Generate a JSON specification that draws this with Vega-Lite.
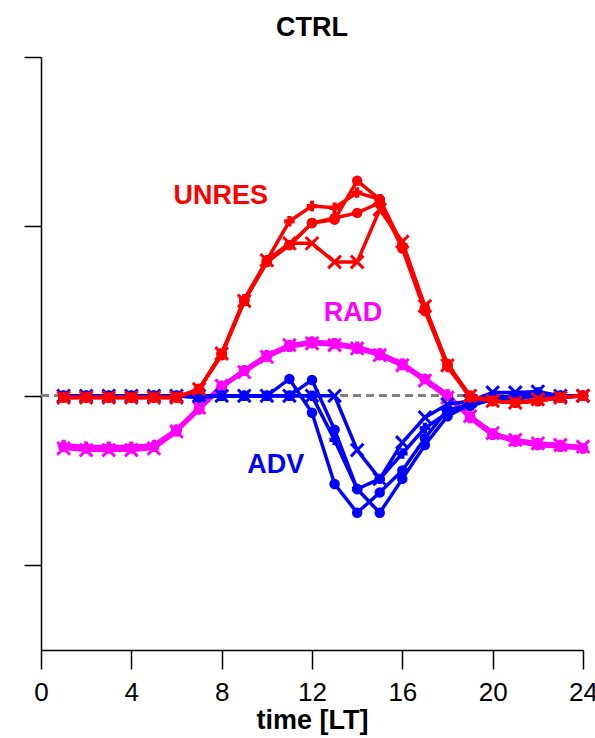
{
"$schema": "https://vega.github.io/schema/vega-lite/v6.json",
"width": 542, "height": 593,
"autosize": "none",
"padding": {"left": 41, "top": 57, "right": 12, "bottom": 88},
"background": "white",
"title": {"text": "CTRL", "fontSize": 27, "fontWeight": "bold", "font": "Liberation Sans", "color": "black", "offset": 14},
"config": {"view": {"stroke": null}, "axis": {"grid": false, "domainColor": "black", "tickColor": "black", "labelColor": "black", "titleColor": "black", "domainWidth": 1.5, "tickWidth": 1.5, "labelFont": "Liberation Sans", "titleFont": "Liberation Sans"}},
"datasets": {
"series": [
{"g":"UNRES","m":"m1","t":1,"v":-0.01},{"g":"UNRES","m":"m1","t":2,"v":-0.01},{"g":"UNRES","m":"m1","t":3,"v":-0.01},{"g":"UNRES","m":"m1","t":4,"v":-0.01},{"g":"UNRES","m":"m1","t":5,"v":-0.01},{"g":"UNRES","m":"m1","t":6,"v":-0.01},{"g":"UNRES","m":"m1","t":7,"v":0.04},{"g":"UNRES","m":"m1","t":8,"v":0.25},{"g":"UNRES","m":"m1","t":9,"v":0.56},{"g":"UNRES","m":"m1","t":10,"v":0.79},{"g":"UNRES","m":"m1","t":11,"v":0.89},{"g":"UNRES","m":"m1","t":12,"v":1.02},{"g":"UNRES","m":"m1","t":13,"v":1.04},{"g":"UNRES","m":"m1","t":14,"v":1.27},{"g":"UNRES","m":"m1","t":15,"v":1.16},{"g":"UNRES","m":"m1","t":16,"v":0.88},{"g":"UNRES","m":"m1","t":17,"v":0.52},{"g":"UNRES","m":"m1","t":18,"v":0.19},{"g":"UNRES","m":"m1","t":19,"v":0.0},{"g":"UNRES","m":"m1","t":20,"v":-0.03},{"g":"UNRES","m":"m1","t":21,"v":-0.04},{"g":"UNRES","m":"m1","t":22,"v":-0.03},{"g":"UNRES","m":"m1","t":23,"v":-0.01},{"g":"UNRES","m":"m1","t":24,"v":0.0},
{"g":"UNRES","m":"m2","t":1,"v":-0.01},{"g":"UNRES","m":"m2","t":2,"v":-0.01},{"g":"UNRES","m":"m2","t":3,"v":-0.01},{"g":"UNRES","m":"m2","t":4,"v":-0.01},{"g":"UNRES","m":"m2","t":5,"v":-0.01},{"g":"UNRES","m":"m2","t":6,"v":-0.01},{"g":"UNRES","m":"m2","t":7,"v":0.04},{"g":"UNRES","m":"m2","t":8,"v":0.25},{"g":"UNRES","m":"m2","t":9,"v":0.56},{"g":"UNRES","m":"m2","t":10,"v":0.80},{"g":"UNRES","m":"m2","t":11,"v":0.90},{"g":"UNRES","m":"m2","t":12,"v":0.90},{"g":"UNRES","m":"m2","t":13,"v":0.79},{"g":"UNRES","m":"m2","t":14,"v":0.79},{"g":"UNRES","m":"m2","t":15,"v":1.10},{"g":"UNRES","m":"m2","t":16,"v":0.91},{"g":"UNRES","m":"m2","t":17,"v":0.53},{"g":"UNRES","m":"m2","t":18,"v":0.18},{"g":"UNRES","m":"m2","t":19,"v":0.0},{"g":"UNRES","m":"m2","t":20,"v":-0.03},{"g":"UNRES","m":"m2","t":21,"v":-0.04},{"g":"UNRES","m":"m2","t":22,"v":-0.02},{"g":"UNRES","m":"m2","t":23,"v":-0.01},{"g":"UNRES","m":"m2","t":24,"v":0.0},
{"g":"UNRES","m":"m3","t":1,"v":-0.01},{"g":"UNRES","m":"m3","t":2,"v":-0.01},{"g":"UNRES","m":"m3","t":3,"v":-0.01},{"g":"UNRES","m":"m3","t":4,"v":-0.01},{"g":"UNRES","m":"m3","t":5,"v":-0.01},{"g":"UNRES","m":"m3","t":6,"v":-0.01},{"g":"UNRES","m":"m3","t":7,"v":0.04},{"g":"UNRES","m":"m3","t":8,"v":0.25},{"g":"UNRES","m":"m3","t":9,"v":0.57},{"g":"UNRES","m":"m3","t":10,"v":0.80},{"g":"UNRES","m":"m3","t":11,"v":1.03},{"g":"UNRES","m":"m3","t":12,"v":1.12},{"g":"UNRES","m":"m3","t":13,"v":1.11},{"g":"UNRES","m":"m3","t":14,"v":1.20},{"g":"UNRES","m":"m3","t":15,"v":1.16},{"g":"UNRES","m":"m3","t":16,"v":0.89},{"g":"UNRES","m":"m3","t":17,"v":0.51},{"g":"UNRES","m":"m3","t":18,"v":0.17},{"g":"UNRES","m":"m3","t":19,"v":0.0},{"g":"UNRES","m":"m3","t":20,"v":-0.03},{"g":"UNRES","m":"m3","t":21,"v":-0.04},{"g":"UNRES","m":"m3","t":22,"v":-0.03},{"g":"UNRES","m":"m3","t":23,"v":-0.01},{"g":"UNRES","m":"m3","t":24,"v":0.0},
{"g":"UNRES","m":"m4","t":1,"v":-0.01},{"g":"UNRES","m":"m4","t":2,"v":-0.01},{"g":"UNRES","m":"m4","t":3,"v":-0.01},{"g":"UNRES","m":"m4","t":4,"v":-0.01},{"g":"UNRES","m":"m4","t":5,"v":-0.01},{"g":"UNRES","m":"m4","t":6,"v":-0.01},{"g":"UNRES","m":"m4","t":7,"v":0.04},{"g":"UNRES","m":"m4","t":8,"v":0.24},{"g":"UNRES","m":"m4","t":9,"v":0.56},{"g":"UNRES","m":"m4","t":10,"v":0.79},{"g":"UNRES","m":"m4","t":11,"v":0.89},{"g":"UNRES","m":"m4","t":12,"v":1.02},{"g":"UNRES","m":"m4","t":13,"v":1.05},{"g":"UNRES","m":"m4","t":14,"v":1.08},{"g":"UNRES","m":"m4","t":15,"v":1.14},{"g":"UNRES","m":"m4","t":16,"v":0.87},{"g":"UNRES","m":"m4","t":17,"v":0.50},{"g":"UNRES","m":"m4","t":18,"v":0.18},{"g":"UNRES","m":"m4","t":19,"v":-0.01},{"g":"UNRES","m":"m4","t":20,"v":-0.03},{"g":"UNRES","m":"m4","t":21,"v":-0.04},{"g":"UNRES","m":"m4","t":22,"v":-0.03},{"g":"UNRES","m":"m4","t":23,"v":-0.01},{"g":"UNRES","m":"m4","t":24,"v":0.0},
{"g":"RAD","m":"m1","t":1,"v":-0.30},{"g":"RAD","m":"m1","t":2,"v":-0.31},{"g":"RAD","m":"m1","t":3,"v":-0.31},{"g":"RAD","m":"m1","t":4,"v":-0.31},{"g":"RAD","m":"m1","t":5,"v":-0.30},{"g":"RAD","m":"m1","t":6,"v":-0.21},{"g":"RAD","m":"m1","t":7,"v":-0.08},{"g":"RAD","m":"m1","t":8,"v":0.05},{"g":"RAD","m":"m1","t":9,"v":0.15},{"g":"RAD","m":"m1","t":10,"v":0.24},{"g":"RAD","m":"m1","t":11,"v":0.29},{"g":"RAD","m":"m1","t":12,"v":0.32},{"g":"RAD","m":"m1","t":13,"v":0.31},{"g":"RAD","m":"m1","t":14,"v":0.28},{"g":"RAD","m":"m1","t":15,"v":0.25},{"g":"RAD","m":"m1","t":16,"v":0.19},{"g":"RAD","m":"m1","t":17,"v":0.10},{"g":"RAD","m":"m1","t":18,"v":0.0},{"g":"RAD","m":"m1","t":19,"v":-0.13},{"g":"RAD","m":"m1","t":20,"v":-0.23},{"g":"RAD","m":"m1","t":21,"v":-0.27},{"g":"RAD","m":"m1","t":22,"v":-0.29},{"g":"RAD","m":"m1","t":23,"v":-0.30},{"g":"RAD","m":"m1","t":24,"v":-0.31},
{"g":"RAD","m":"m2","t":1,"v":-0.31},{"g":"RAD","m":"m2","t":2,"v":-0.32},{"g":"RAD","m":"m2","t":3,"v":-0.32},{"g":"RAD","m":"m2","t":4,"v":-0.32},{"g":"RAD","m":"m2","t":5,"v":-0.31},{"g":"RAD","m":"m2","t":6,"v":-0.21},{"g":"RAD","m":"m2","t":7,"v":-0.07},{"g":"RAD","m":"m2","t":8,"v":0.06},{"g":"RAD","m":"m2","t":9,"v":0.14},{"g":"RAD","m":"m2","t":10,"v":0.23},{"g":"RAD","m":"m2","t":11,"v":0.30},{"g":"RAD","m":"m2","t":12,"v":0.31},{"g":"RAD","m":"m2","t":13,"v":0.30},{"g":"RAD","m":"m2","t":14,"v":0.28},{"g":"RAD","m":"m2","t":15,"v":0.24},{"g":"RAD","m":"m2","t":16,"v":0.18},{"g":"RAD","m":"m2","t":17,"v":0.09},{"g":"RAD","m":"m2","t":18,"v":-0.01},{"g":"RAD","m":"m2","t":19,"v":-0.12},{"g":"RAD","m":"m2","t":20,"v":-0.22},{"g":"RAD","m":"m2","t":21,"v":-0.26},{"g":"RAD","m":"m2","t":22,"v":-0.28},{"g":"RAD","m":"m2","t":23,"v":-0.29},{"g":"RAD","m":"m2","t":24,"v":-0.30},
{"g":"RAD","m":"m3","t":1,"v":-0.29},{"g":"RAD","m":"m3","t":2,"v":-0.30},{"g":"RAD","m":"m3","t":3,"v":-0.30},{"g":"RAD","m":"m3","t":4,"v":-0.30},{"g":"RAD","m":"m3","t":5,"v":-0.29},{"g":"RAD","m":"m3","t":6,"v":-0.20},{"g":"RAD","m":"m3","t":7,"v":-0.07},{"g":"RAD","m":"m3","t":8,"v":0.06},{"g":"RAD","m":"m3","t":9,"v":0.15},{"g":"RAD","m":"m3","t":10,"v":0.24},{"g":"RAD","m":"m3","t":11,"v":0.30},{"g":"RAD","m":"m3","t":12,"v":0.32},{"g":"RAD","m":"m3","t":13,"v":0.31},{"g":"RAD","m":"m3","t":14,"v":0.29},{"g":"RAD","m":"m3","t":15,"v":0.25},{"g":"RAD","m":"m3","t":16,"v":0.19},{"g":"RAD","m":"m3","t":17,"v":0.10},{"g":"RAD","m":"m3","t":18,"v":0.01},{"g":"RAD","m":"m3","t":19,"v":-0.13},{"g":"RAD","m":"m3","t":20,"v":-0.23},{"g":"RAD","m":"m3","t":21,"v":-0.26},{"g":"RAD","m":"m3","t":22,"v":-0.28},{"g":"RAD","m":"m3","t":23,"v":-0.29},{"g":"RAD","m":"m3","t":24,"v":-0.31},
{"g":"RAD","m":"m4","t":1,"v":-0.30},{"g":"RAD","m":"m4","t":2,"v":-0.31},{"g":"RAD","m":"m4","t":3,"v":-0.31},{"g":"RAD","m":"m4","t":4,"v":-0.31},{"g":"RAD","m":"m4","t":5,"v":-0.30},{"g":"RAD","m":"m4","t":6,"v":-0.20},{"g":"RAD","m":"m4","t":7,"v":-0.08},{"g":"RAD","m":"m4","t":8,"v":0.05},{"g":"RAD","m":"m4","t":9,"v":0.15},{"g":"RAD","m":"m4","t":10,"v":0.23},{"g":"RAD","m":"m4","t":11,"v":0.29},{"g":"RAD","m":"m4","t":12,"v":0.31},{"g":"RAD","m":"m4","t":13,"v":0.31},{"g":"RAD","m":"m4","t":14,"v":0.28},{"g":"RAD","m":"m4","t":15,"v":0.24},{"g":"RAD","m":"m4","t":16,"v":0.18},{"g":"RAD","m":"m4","t":17,"v":0.10},{"g":"RAD","m":"m4","t":18,"v":0.0},{"g":"RAD","m":"m4","t":19,"v":-0.12},{"g":"RAD","m":"m4","t":20,"v":-0.22},{"g":"RAD","m":"m4","t":21,"v":-0.27},{"g":"RAD","m":"m4","t":22,"v":-0.29},{"g":"RAD","m":"m4","t":23,"v":-0.30},{"g":"RAD","m":"m4","t":24,"v":-0.31},
{"g":"ADV","m":"m1","t":1,"v":0},{"g":"ADV","m":"m1","t":2,"v":0},{"g":"ADV","m":"m1","t":3,"v":0},{"g":"ADV","m":"m1","t":4,"v":0},{"g":"ADV","m":"m1","t":5,"v":0},{"g":"ADV","m":"m1","t":6,"v":0},{"g":"ADV","m":"m1","t":7,"v":-0.01},{"g":"ADV","m":"m1","t":8,"v":0},{"g":"ADV","m":"m1","t":9,"v":0},{"g":"ADV","m":"m1","t":10,"v":0},{"g":"ADV","m":"m1","t":11,"v":0.10},{"g":"ADV","m":"m1","t":12,"v":-0.10},{"g":"ADV","m":"m1","t":13,"v":-0.52},{"g":"ADV","m":"m1","t":14,"v":-0.69},{"g":"ADV","m":"m1","t":15,"v":-0.57},{"g":"ADV","m":"m1","t":16,"v":-0.44},{"g":"ADV","m":"m1","t":17,"v":-0.25},{"g":"ADV","m":"m1","t":18,"v":-0.08},{"g":"ADV","m":"m1","t":19,"v":-0.06},{"g":"ADV","m":"m1","t":20,"v":-0.02},{"g":"ADV","m":"m1","t":21,"v":-0.01},{"g":"ADV","m":"m1","t":22,"v":0.01},{"g":"ADV","m":"m1","t":23,"v":0},{"g":"ADV","m":"m1","t":24,"v":0},
{"g":"ADV","m":"m2","t":1,"v":0},{"g":"ADV","m":"m2","t":2,"v":0},{"g":"ADV","m":"m2","t":3,"v":0},{"g":"ADV","m":"m2","t":4,"v":0},{"g":"ADV","m":"m2","t":5,"v":0},{"g":"ADV","m":"m2","t":6,"v":0},{"g":"ADV","m":"m2","t":7,"v":0},{"g":"ADV","m":"m2","t":8,"v":0},{"g":"ADV","m":"m2","t":9,"v":0},{"g":"ADV","m":"m2","t":10,"v":0},{"g":"ADV","m":"m2","t":11,"v":0},{"g":"ADV","m":"m2","t":12,"v":0},{"g":"ADV","m":"m2","t":13,"v":0},{"g":"ADV","m":"m2","t":14,"v":-0.32},{"g":"ADV","m":"m2","t":15,"v":-0.49},{"g":"ADV","m":"m2","t":16,"v":-0.275},{"g":"ADV","m":"m2","t":17,"v":-0.127},{"g":"ADV","m":"m2","t":18,"v":-0.05},{"g":"ADV","m":"m2","t":19,"v":-0.03},{"g":"ADV","m":"m2","t":20,"v":0.02},{"g":"ADV","m":"m2","t":21,"v":0.02},{"g":"ADV","m":"m2","t":22,"v":0.025},{"g":"ADV","m":"m2","t":23,"v":0},{"g":"ADV","m":"m2","t":24,"v":0},
{"g":"ADV","m":"m3","t":1,"v":0},{"g":"ADV","m":"m3","t":2,"v":0},{"g":"ADV","m":"m3","t":3,"v":0},{"g":"ADV","m":"m3","t":4,"v":0},{"g":"ADV","m":"m3","t":5,"v":0},{"g":"ADV","m":"m3","t":6,"v":0},{"g":"ADV","m":"m3","t":7,"v":0},{"g":"ADV","m":"m3","t":8,"v":0},{"g":"ADV","m":"m3","t":9,"v":0},{"g":"ADV","m":"m3","t":10,"v":0},{"g":"ADV","m":"m3","t":11,"v":0},{"g":"ADV","m":"m3","t":12,"v":0},{"g":"ADV","m":"m3","t":13,"v":-0.26},{"g":"ADV","m":"m3","t":14,"v":-0.55},{"g":"ADV","m":"m3","t":15,"v":-0.49},{"g":"ADV","m":"m3","t":16,"v":-0.34},{"g":"ADV","m":"m3","t":17,"v":-0.19},{"g":"ADV","m":"m3","t":18,"v":-0.10},{"g":"ADV","m":"m3","t":19,"v":-0.04},{"g":"ADV","m":"m3","t":20,"v":-0.01},{"g":"ADV","m":"m3","t":21,"v":0.0},{"g":"ADV","m":"m3","t":22,"v":0.02},{"g":"ADV","m":"m3","t":23,"v":0},{"g":"ADV","m":"m3","t":24,"v":0},
{"g":"ADV","m":"m4","t":1,"v":0},{"g":"ADV","m":"m4","t":2,"v":0},{"g":"ADV","m":"m4","t":3,"v":0},{"g":"ADV","m":"m4","t":4,"v":0},{"g":"ADV","m":"m4","t":5,"v":0},{"g":"ADV","m":"m4","t":6,"v":0},{"g":"ADV","m":"m4","t":7,"v":-0.01},{"g":"ADV","m":"m4","t":8,"v":0},{"g":"ADV","m":"m4","t":9,"v":0},{"g":"ADV","m":"m4","t":10,"v":0},{"g":"ADV","m":"m4","t":11,"v":0},{"g":"ADV","m":"m4","t":12,"v":0.094},{"g":"ADV","m":"m4","t":13,"v":-0.20},{"g":"ADV","m":"m4","t":14,"v":-0.55},{"g":"ADV","m":"m4","t":15,"v":-0.69},{"g":"ADV","m":"m4","t":16,"v":-0.49},{"g":"ADV","m":"m4","t":17,"v":-0.29},{"g":"ADV","m":"m4","t":18,"v":-0.12},{"g":"ADV","m":"m4","t":19,"v":-0.05},{"g":"ADV","m":"m4","t":20,"v":-0.02},{"g":"ADV","m":"m4","t":21,"v":-0.02},{"g":"ADV","m":"m4","t":22,"v":0.0},{"g":"ADV","m":"m4","t":23,"v":0},{"g":"ADV","m":"m4","t":24,"v":0}
],
"labels": [
{"label":"UNRES","t":7.96,"v":1.18},
{"label":"RAD","t":13.82,"v":0.49},
{"label":"ADV","t":10.4,"v":-0.41}
]
},
"data": {"name": "series"},
"encoding": {
"x": {"field": "t", "type": "quantitative", "scale": {"domain": [0, 24], "nice": false, "zero": false},
 "axis": {"values": [0,4,8,12,16,20,24], "tickSize": 19, "labelFontSize": 26, "labelPadding": 10, "labelFlush": false, "labelOverlap": false, "labelBound": false, "title": "time [LT]", "titleFontSize": 27, "titleFontWeight": "bold", "titlePadding": 2}},
"y": {"field": "v", "type": "quantitative", "scale": {"domain": [-1.5, 2], "nice": false, "zero": false},
 "axis": {"values": [-1,0,1,2], "labels": false, "tickSize": 17, "title": null}}
},
"layer": [
{"mark": {"type": "rule", "color": "#808080", "strokeWidth": 2, "strokeDash": [8, 5]}, "encoding": {"y": {"datum": 0}, "x": {"datum": 0}, "x2": {"datum": 24}}},
{"transform": [{"filter": "datum.g === 'RAD'"}], "mark": {"type": "line", "color": "#ff00ff", "strokeWidth": 4}, "encoding": {"detail": {"field": "m"}}},
{"transform": [{"filter": "datum.g === 'RAD' && datum.m !== 'm2'"}], "mark": {"type": "point", "filled": true, "color": "#ff00ff", "size": 110, "opacity": 1}, "encoding": {"shape": {"field": "m", "scale": {"domain": ["m1","m3","m4"], "range": ["circle","cross","circle"]}, "legend": null}}},
{"transform": [{"filter": "datum.g === 'RAD' && datum.m === 'm2'"}], "mark": {"type": "point", "filled": false, "color": "#ff00ff", "size": 160, "strokeWidth": 3, "opacity": 1, "shape": "M-1,-1L1,1M-1,1L1,-1"}},
{"transform": [{"filter": "datum.g === 'ADV'"}], "mark": {"type": "line", "color": "#0000ff", "strokeWidth": 3.5}, "encoding": {"detail": {"field": "m"}}},
{"transform": [{"filter": "datum.g === 'ADV' && datum.m !== 'm2'"}], "mark": {"type": "point", "filled": true, "color": "#0000ff", "size": 110, "opacity": 1}, "encoding": {"shape": {"field": "m", "scale": {"domain": ["m1","m3","m4"], "range": ["circle","cross","circle"]}, "legend": null}}},
{"transform": [{"filter": "datum.g === 'ADV' && datum.m === 'm2'"}], "mark": {"type": "point", "filled": false, "color": "#0000ff", "size": 160, "strokeWidth": 3, "opacity": 1, "shape": "M-1,-1L1,1M-1,1L1,-1"}},
{"transform": [{"filter": "datum.g === 'UNRES'"}], "mark": {"type": "line", "color": "#ff0000", "strokeWidth": 3.5}, "encoding": {"detail": {"field": "m"}}},
{"transform": [{"filter": "datum.g === 'UNRES' && datum.m !== 'm2'"}], "mark": {"type": "point", "filled": true, "color": "#ff0000", "size": 110, "opacity": 1}, "encoding": {"shape": {"field": "m", "scale": {"domain": ["m1","m3","m4"], "range": ["circle","cross","circle"]}, "legend": null}}},
{"transform": [{"filter": "datum.g === 'UNRES' && datum.m === 'm2'"}], "mark": {"type": "point", "filled": false, "color": "#ff0000", "size": 160, "strokeWidth": 3, "opacity": 1, "shape": "M-1,-1L1,1M-1,1L1,-1"}},
{"data": {"name": "labels"}, "mark": {"type": "text", "fontSize": 27, "fontWeight": "bold", "font": "Liberation Sans", "align": "center", "baseline": "middle"},
 "encoding": {"text": {"field": "label"}, "color": {"field": "label", "scale": {"domain": ["UNRES","RAD","ADV"], "range": ["#ff0000","#ff00ff","#0000ff"]}, "legend": null}}}
]
}
